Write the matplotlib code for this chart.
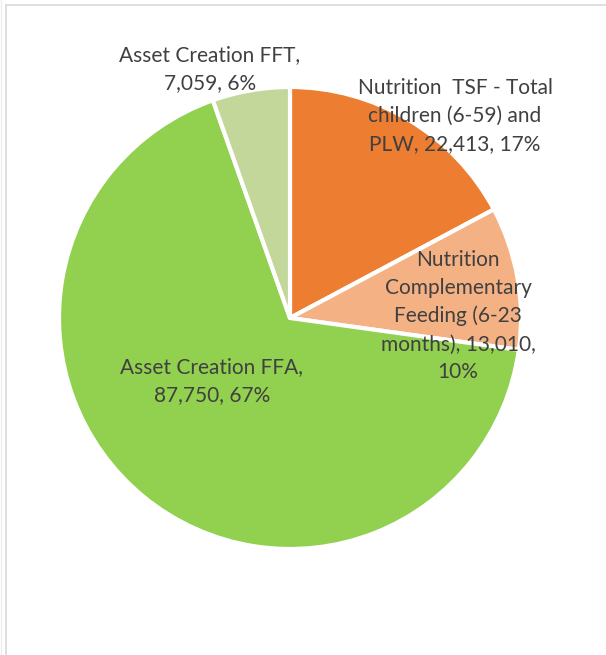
import matplotlib.pyplot as plt
from matplotlib.lines import Line2D

# data
names = ['Nutrition  TSF - Total\nchildren (6-59) and\nPLW',
         'Nutrition\nComplementary\nFeeding (6-23\nmonths)',
         'Asset Creation FFA',
         'Asset Creation FFT']
values = [22413, 13010, 87750, 7059]
pcts = [17, 10, 67, 6]
colors = ['#ED7D31', '#F4B183', '#92D050', '#C4D79B']

labels = ['Nutrition  TSF - Total\nchildren (6-59) and\nPLW, 22,413, 17%',
          'Nutrition\nComplementary\nFeeding (6-23\nmonths), 13,010,\n10%',
          'Asset Creation FFA,\n87,750, 67%',
          'Asset Creation FFT,\n7,059, 6%']
# label centres in pixel coords (x, y from top)
label_pos = [(455, 116), (458, 316), (212, 381), (210, 69)]

W, H = 606, 655
fig = plt.figure(figsize=(W / 100, H / 100), dpi=100)
ax = fig.add_axes([0, 0, 1, 1])
ax.set_xlim(0, W)
ax.set_ylim(0, H)
ax.set_aspect('equal')
ax.axis('off')

ax.pie(values, colors=colors, startangle=90, counterclock=False,
       center=(290, H - 318), radius=231,
       wedgeprops=dict(edgecolor='white', linewidth=3))
ax.set_xlim(0, W)
ax.set_ylim(0, H)

for lab, (x, y) in zip(labels, label_pos):
    ax.text(x, H - y, lab, ha='center', va='center', fontsize=15,
            family='Lato', color='#404040', linespacing=1.5)

# chart frame
fig.add_artist(Line2D([6 / W, 1], [1 - 5 / H, 1 - 5 / H], transform=fig.transFigure,
                      color='#D9D9D9', lw=1.2))
fig.add_artist(Line2D([6 / W, 6 / W], [0, 1 - 5 / H], transform=fig.transFigure,
                      color='#D9D9D9', lw=1.2))
fig.add_artist(Line2D([1 / W, 1 / W], [0, 1], transform=fig.transFigure,
                      color='#EEEEEE', lw=1))

fig.savefig('out.png', dpi=100)
